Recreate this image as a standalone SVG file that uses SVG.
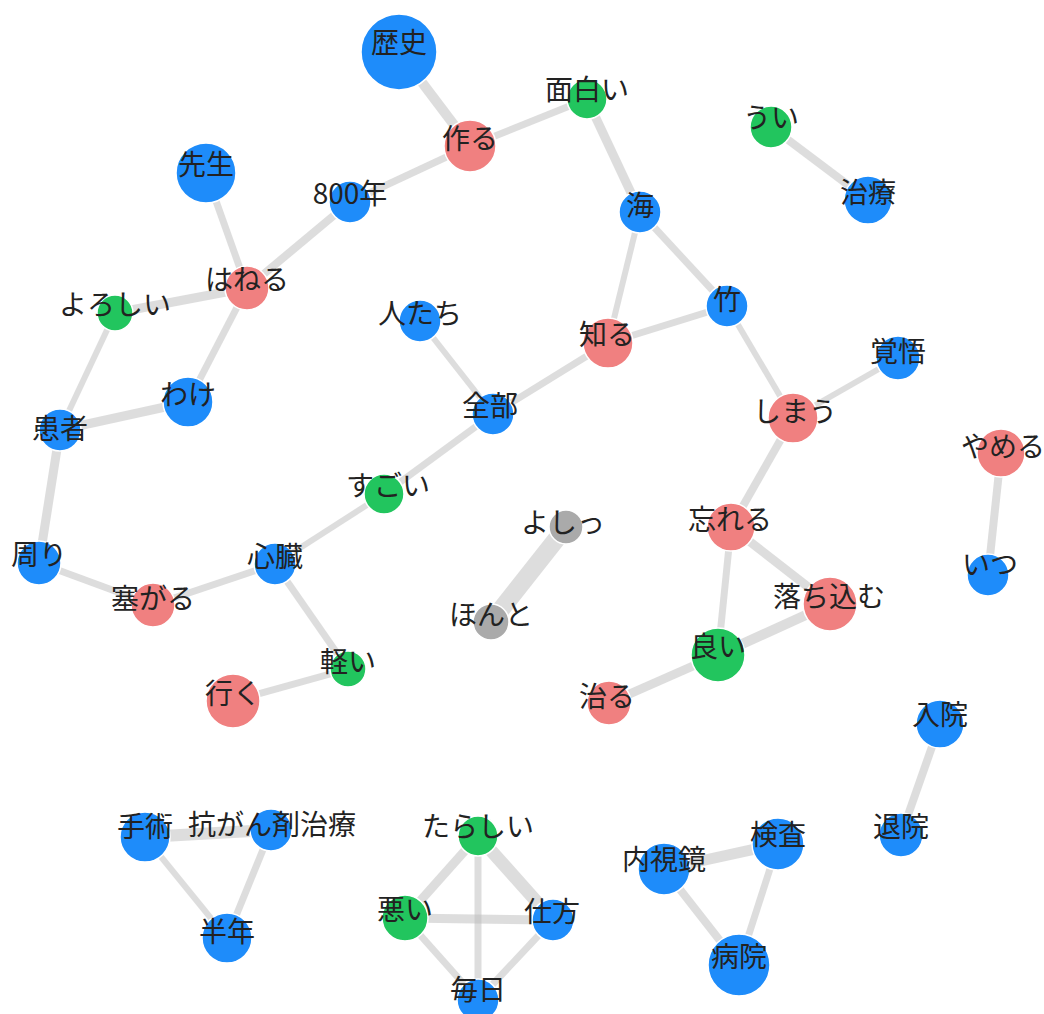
<svg xmlns="http://www.w3.org/2000/svg" width="1044" height="1014" viewBox="0 0 1044 1014">
  <style>
    .edge { stroke: #bbbbbb; stroke-opacity: 0.5; stroke-linecap: butt; fill: none; }
    .node circle { stroke: #ffffff; stroke-width: 1.5; }
    .blue circle { fill: #1e8cfa; }
    .red circle { fill: #f08080; }
    .green circle { fill: #22c55e; }
    .gray circle { fill: #aaaaaa; }
    .node text { font-family: "Noto Sans CJK JP", "Noto Sans", sans-serif; font-size: 28px; fill: #222222; text-anchor: middle; dominant-baseline: central; }
  </style>
  <rect width="1044" height="1014" fill="#ffffff"/>

  <!-- co-occurrence links; stroke width follows link weight -->
  <g id="edges">
    <line class="edge" x1="399" y1="52" x2="470" y2="146" stroke-width="10"/>
    <line class="edge" x1="470" y1="146" x2="587" y2="99" stroke-width="7"/>
    <line class="edge" x1="470" y1="146" x2="350" y2="202" stroke-width="7"/>
    <line class="edge" x1="587" y1="99" x2="640" y2="212" stroke-width="9"/>
    <line class="edge" x1="640" y1="212" x2="608" y2="343" stroke-width="6"/>
    <line class="edge" x1="640" y1="212" x2="727" y2="306" stroke-width="7"/>
    <line class="edge" x1="608" y1="343" x2="727" y2="306" stroke-width="7"/>
    <line class="edge" x1="727" y1="306" x2="793" y2="418" stroke-width="6"/>
    <line class="edge" x1="793" y1="418" x2="898" y2="358" stroke-width="6"/>
    <line class="edge" x1="793" y1="418" x2="731" y2="527" stroke-width="8"/>
    <line class="edge" x1="731" y1="527" x2="718" y2="655" stroke-width="7"/>
    <line class="edge" x1="731" y1="527" x2="830" y2="604" stroke-width="9"/>
    <line class="edge" x1="718" y1="655" x2="830" y2="604" stroke-width="10"/>
    <line class="edge" x1="718" y1="655" x2="609" y2="703" stroke-width="9"/>
    <line class="edge" x1="771" y1="127" x2="868" y2="200" stroke-width="8"/>
    <line class="edge" x1="608" y1="343" x2="493" y2="414" stroke-width="7"/>
    <line class="edge" x1="493" y1="414" x2="420" y2="321" stroke-width="6"/>
    <line class="edge" x1="493" y1="414" x2="384" y2="494" stroke-width="7"/>
    <line class="edge" x1="384" y1="494" x2="275" y2="564" stroke-width="6"/>
    <line class="edge" x1="275" y1="564" x2="153" y2="605" stroke-width="7"/>
    <line class="edge" x1="153" y1="605" x2="39" y2="563" stroke-width="7"/>
    <line class="edge" x1="39" y1="563" x2="60" y2="430" stroke-width="9"/>
    <line class="edge" x1="60" y1="430" x2="115" y2="313" stroke-width="6"/>
    <line class="edge" x1="60" y1="430" x2="188" y2="402" stroke-width="9"/>
    <line class="edge" x1="188" y1="402" x2="247" y2="288" stroke-width="7"/>
    <line class="edge" x1="115" y1="313" x2="247" y2="288" stroke-width="9"/>
    <line class="edge" x1="206" y1="173" x2="247" y2="288" stroke-width="7"/>
    <line class="edge" x1="247" y1="288" x2="350" y2="202" stroke-width="8"/>
    <line class="edge" x1="275" y1="564" x2="348" y2="669" stroke-width="7"/>
    <line class="edge" x1="348" y1="669" x2="233" y2="701" stroke-width="7"/>
    <line class="edge" x1="566" y1="527" x2="491" y2="622" stroke-width="18"/>
    <line class="edge" x1="1001" y1="453" x2="988" y2="575" stroke-width="8"/>
    <line class="edge" x1="940" y1="724" x2="901" y2="835" stroke-width="8"/>
    <line class="edge" x1="664" y1="869" x2="778" y2="844" stroke-width="11"/>
    <line class="edge" x1="664" y1="869" x2="739" y2="965" stroke-width="8"/>
    <line class="edge" x1="778" y1="844" x2="739" y2="965" stroke-width="7"/>
    <line class="edge" x1="145" y1="837" x2="271" y2="830" stroke-width="12"/>
    <line class="edge" x1="145" y1="837" x2="227" y2="938" stroke-width="6"/>
    <line class="edge" x1="271" y1="830" x2="227" y2="938" stroke-width="7"/>
    <line class="edge" x1="478" y1="836" x2="405" y2="918" stroke-width="9"/>
    <line class="edge" x1="478" y1="836" x2="553" y2="920" stroke-width="13"/>
    <line class="edge" x1="478" y1="836" x2="478" y2="1000" stroke-width="7"/>
    <line class="edge" x1="405" y1="918" x2="553" y2="920" stroke-width="9"/>
    <line class="edge" x1="405" y1="918" x2="478" y2="1000" stroke-width="7"/>
    <line class="edge" x1="553" y1="920" x2="478" y2="1000" stroke-width="7"/>
  </g>

  <g id="nodes">
    <g id="n-rekishi" class="node blue"><circle cx="399" cy="52" r="38"/><text x="399" y="41">歴史</text></g>
    <g id="n-tsukuru" class="node red"><circle cx="470" cy="146" r="26"/><text x="470" y="137">作る</text></g>
    <g id="n-omoshiroi" class="node green"><circle cx="587" cy="99" r="20"/><text x="587" y="88">面白い</text></g>
    <g id="n-umi" class="node blue"><circle cx="640" cy="212" r="21"/><text x="640" y="204">海</text></g>
    <g id="n-ui" class="node green"><circle cx="771" cy="127" r="21"/><text x="771" y="116">うい</text></g>
    <g id="n-chiryo" class="node blue"><circle cx="868" cy="200" r="24"/><text x="868" y="191">治療</text></g>
    <g id="n-sensei" class="node blue"><circle cx="206" cy="173" r="30"/><text x="206" y="163">先生</text></g>
    <g id="n-800nen" class="node blue"><circle cx="350" cy="202" r="21"/><text x="350" y="192">800年</text></g>
    <g id="n-haneru" class="node red"><circle cx="247" cy="288" r="22"/><text x="247" y="278">はねる</text></g>
    <g id="n-yoroshii" class="node green"><circle cx="115" cy="313" r="18"/><text x="115" y="303">よろしい</text></g>
    <g id="n-wake" class="node blue"><circle cx="188" cy="402" r="25"/><text x="188" y="393">わけ</text></g>
    <g id="n-kanja" class="node blue"><circle cx="60" cy="430" r="21"/><text x="60" y="427">患者</text></g>
    <g id="n-mawari" class="node blue"><circle cx="39" cy="563" r="22"/><text x="39" y="553">周り</text></g>
    <g id="n-fusagaru" class="node red"><circle cx="153" cy="605" r="22"/><text x="153" y="597">塞がる</text></g>
    <g id="n-shinzo" class="node blue"><circle cx="275" cy="564" r="21"/><text x="275" y="555">心臓</text></g>
    <g id="n-karui" class="node green"><circle cx="348" cy="669" r="18"/><text x="348" y="660">軽い</text></g>
    <g id="n-iku" class="node red"><circle cx="233" cy="701" r="27"/><text x="233" y="692">行く</text></g>
    <g id="n-sugoi" class="node green"><circle cx="384" cy="494" r="20"/><text x="388" y="484">すごい</text></g>
    <g id="n-zenbu" class="node blue"><circle cx="493" cy="414" r="21"/><text x="490" y="404">全部</text></g>
    <g id="n-hitotachi" class="node blue"><circle cx="420" cy="321" r="21"/><text x="420" y="312">人たち</text></g>
    <g id="n-shiru" class="node red"><circle cx="608" cy="343" r="25"/><text x="607" y="333">知る</text></g>
    <g id="n-take" class="node blue"><circle cx="727" cy="306" r="21"/><text x="727" y="298">竹</text></g>
    <g id="n-kakugo" class="node blue"><circle cx="898" cy="358" r="22"/><text x="898" y="350">覚悟</text></g>
    <g id="n-shimau" class="node red"><circle cx="793" cy="418" r="25"/><text x="795" y="410">しまう</text></g>
    <g id="n-yameru" class="node red"><circle cx="1001" cy="453" r="24"/><text x="1003" y="445">やめる</text></g>
    <g id="n-itsu" class="node blue"><circle cx="988" cy="575" r="21"/><text x="990" y="563">いつ</text></g>
    <g id="n-wasureru" class="node red"><circle cx="731" cy="527" r="24"/><text x="730" y="518">忘れる</text></g>
    <g id="n-ochikomu" class="node red"><circle cx="830" cy="604" r="27"/><text x="829" y="595">落ち込む</text></g>
    <g id="n-yoi" class="node green"><circle cx="718" cy="655" r="27"/><text x="718" y="645">良い</text></g>
    <g id="n-naoru" class="node red"><circle cx="609" cy="703" r="22"/><text x="607" y="695">治る</text></g>
    <g id="n-yoshi" class="node gray"><circle cx="566" cy="527" r="17"/><text x="563" y="521">よしっ</text></g>
    <g id="n-honto" class="node gray"><circle cx="491" cy="622" r="18"/><text x="491" y="613">ほんと</text></g>
    <g id="n-nyuin" class="node blue"><circle cx="940" cy="724" r="24"/><text x="940" y="713">入院</text></g>
    <g id="n-taiin" class="node blue"><circle cx="901" cy="835" r="22"/><text x="901" y="825">退院</text></g>
    <g id="n-naishikyo" class="node blue"><circle cx="664" cy="869" r="26"/><text x="664" y="858">内視鏡</text></g>
    <g id="n-kensa" class="node blue"><circle cx="778" cy="844" r="26"/><text x="778" y="833">検査</text></g>
    <g id="n-byoin" class="node blue"><circle cx="739" cy="965" r="31"/><text x="739" y="955">病院</text></g>
    <g id="n-shujutsu" class="node blue"><circle cx="145" cy="837" r="25"/><text x="145" y="825">手術</text></g>
    <g id="n-kogan" class="node blue"><circle cx="271" cy="830" r="21"/><text x="272" y="823">抗がん剤治療</text></g>
    <g id="n-hantoshi" class="node blue"><circle cx="227" cy="938" r="25"/><text x="227" y="930">半年</text></g>
    <g id="n-tarashii" class="node green"><circle cx="478" cy="836" r="20"/><text x="478" y="825">たらしい</text></g>
    <g id="n-warui" class="node green"><circle cx="405" cy="918" r="23"/><text x="405" y="908">悪い</text></g>
    <g id="n-shikata" class="node blue"><circle cx="553" cy="920" r="21"/><text x="552" y="910">仕方</text></g>
    <g id="n-mainichi" class="node blue"><circle cx="478" cy="1000" r="21"/><text x="478" y="988">毎日</text></g>
  </g>
</svg>
